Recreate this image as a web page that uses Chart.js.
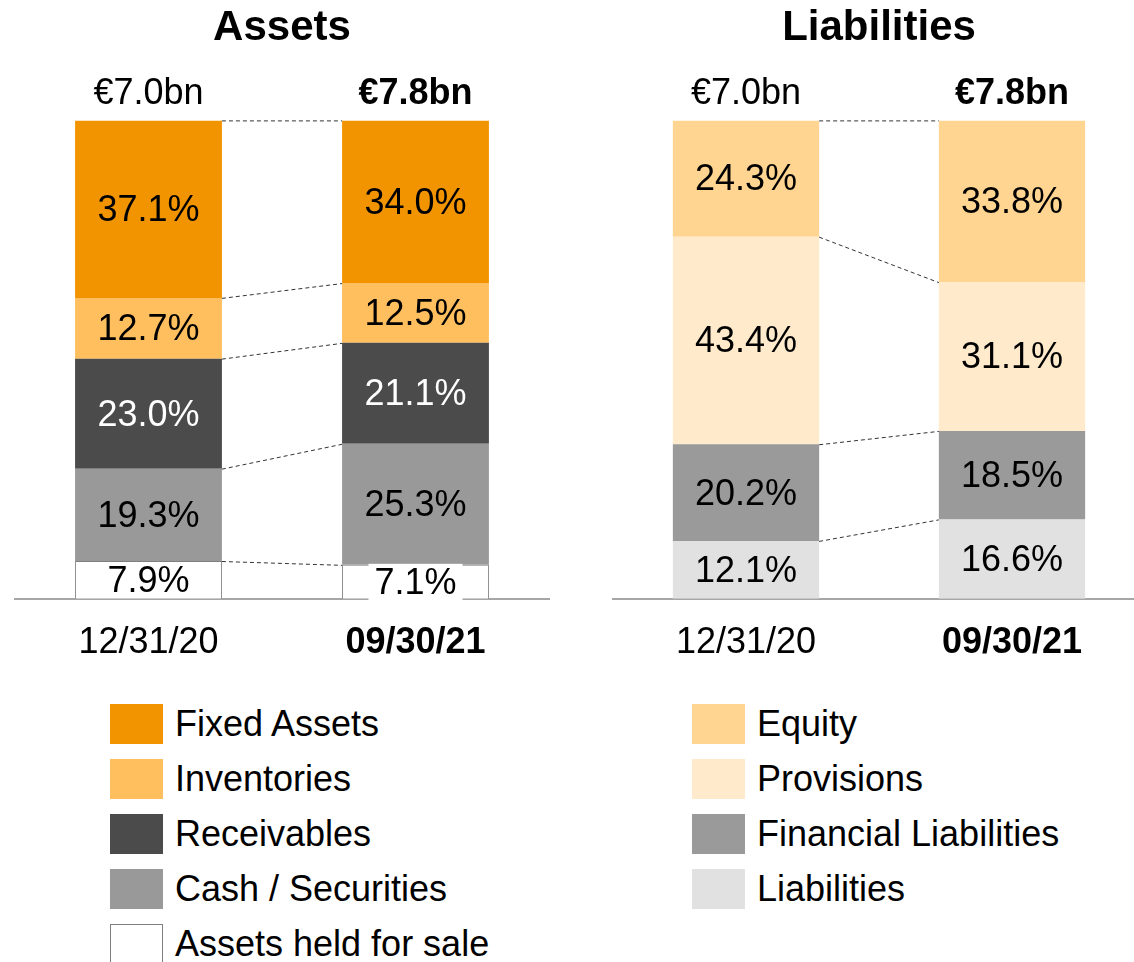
<!DOCTYPE html>
<html>
<head>
<meta charset="utf-8">
<script src="https://cdn.jsdelivr.net/npm/chart.js@4.4.1/dist/chart.umd.min.js"></script>
<style>
  html, body { margin: 0; padding: 0; background: #fff; overflow: hidden; }
  body { width: 1134px; height: 962px; position: relative; font-family: "Liberation Sans", Arial, sans-serif; }
  .panel { position: absolute; top: 0; }
  .legend { position: absolute; top: 696px; }
  .legend .item { display: flex; align-items: center; height: 55px; font-size: 36px; color: #000; }
  .legend .box { width: 53px; height: 40px; margin-right: 12px; box-sizing: border-box; }
</style>
</head>
<body>
<div class="panel" style="left:0"><canvas id="assetsChart" width="567" height="692"></canvas></div>
<div class="panel" style="left:598px"><canvas id="liabChart" width="565" height="692"></canvas></div>
<div class="legend" id="assetsLegend" style="left:110px"></div>
<div class="legend" id="liabLegend" style="left:692px"></div>
<script>
const dates = ['12/31/20', '09/30/21'];
const totals = ['€7.0bn', '€7.8bn'];

// Assets (%), bottom of the stack first
const heldForSale = [7.9, 7.1];
const cashSecurities = [19.3, 25.3];
const receivables = [23.0, 21.1];
const inventories = [12.7, 12.5];
const fixedAssets = [37.1, 34.0];

// Liabilities (%), bottom of the stack first
const liabilities = [12.1, 16.6];
const financialLiabilities = [20.2, 18.5];
const provisions = [43.4, 31.1];
const equity = [24.3, 33.8];

const FONT = '"Liberation Sans", Arial, sans-serif';

const barLabels = {
  id: 'barLabels',
  afterDatasetsDraw(chart, args, opts) {
    const ctx = chart.ctx;
    const metas = chart.data.datasets.map((d, i) => chart.getDatasetMeta(i));
    ctx.save();

    // dashed lines joining the segment tops
    ctx.strokeStyle = '#333';
    ctx.lineWidth = 1;
    ctx.setLineDash([4, 3]);
    metas.forEach(m => {
      const a = m.data[0], b = m.data[1];
      ctx.beginPath();
      ctx.moveTo(a.x + a.width / 2, a.y + 0.5);
      ctx.lineTo(b.x - b.width / 2, b.y + 0.5);
      ctx.stroke();
    });
    ctx.setLineDash([]);

    // percentages inside the segments
    ctx.font = '36px ' + FONT;
    ctx.textAlign = 'center';
    ctx.textBaseline = 'middle';
    metas.forEach((m, i) => {
      const ds = chart.data.datasets[i];
      m.data.forEach((el, j) => {
        const txt = ds.data[j].toFixed(1) + '%';
        const cy = (el.y + el.base) / 2 + 2;
        const h = el.base - el.y;
        if (h < 36) {
          const w = ctx.measureText(txt).width + 12;
          ctx.fillStyle = '#fff';
          ctx.fillRect(el.x - w / 2, cy - 20, w, 38);
        }
        ctx.fillStyle = ds.labelColor || '#000';
        ctx.fillText(txt, el.x, cy);
      });
    });

    // totals above the bars
    const top = metas[metas.length - 1].data;
    opts.totals.forEach((t, j) => {
      ctx.font = (j === 1 ? 'bold ' : '') + '36px ' + FONT;
      ctx.fillStyle = '#000';
      ctx.fillText(t, top[j].x, top[j].y - 26);
    });
    ctx.restore();
  }
};

function makeChart(id, title, datasets) {
  return new Chart(document.getElementById(id), {
    type: 'bar',
    data: { labels: dates, datasets: datasets },
    options: {
      responsive: false,
      animation: false,
      devicePixelRatio: 1,
      layout: { padding: { left: 15, right: 18, top: 0, bottom: 4 } },
      datasets: { bar: { barPercentage: 0.55, categoryPercentage: 1 } },
      scales: {
        x: {
          stacked: true,
          grid: { display: false, drawTicks: false },
          border: { display: true, color: '#a6a6a6', width: 2 },
          ticks: {
            padding: 23,
            color: '#000',
            font: c => ({ family: FONT, size: 36, weight: c.index === 1 ? 'bold' : 'normal' })
          }
        },
        y: { stacked: true, display: false, min: 0, max: 100 }
      },
      plugins: {
        legend: { display: false },
        tooltip: { enabled: false },
        title: {
          display: true,
          text: title,
          color: '#000',
          font: { family: FONT, size: 42, weight: 'bold' },
          padding: { top: 3, bottom: 67 }
        },
        barLabels: { totals: totals }
      }
    },
    plugins: [barLabels]
  });
}

const assetsChart = makeChart('assetsChart', 'Assets', [
  { label: 'Assets held for sale', data: heldForSale, backgroundColor: '#ffffff', borderColor: '#7f7f7f', borderWidth: 1 },
  { label: 'Cash / Securities', data: cashSecurities, backgroundColor: '#999999' },
  { label: 'Receivables', data: receivables, backgroundColor: '#4b4b4b', labelColor: '#ffffff' },
  { label: 'Inventories', data: inventories, backgroundColor: '#ffbf5e' },
  { label: 'Fixed Assets', data: fixedAssets, backgroundColor: '#f29400' }
]);

const liabChart = makeChart('liabChart', 'Liabilities', [
  { label: 'Liabilities', data: liabilities, backgroundColor: '#e1e1e1' },
  { label: 'Financial Liabilities', data: financialLiabilities, backgroundColor: '#9a9a9a' },
  { label: 'Provisions', data: provisions, backgroundColor: '#ffebcc' },
  { label: 'Equity', data: equity, backgroundColor: '#ffd591' }
]);

function buildLegend(chart, elId) {
  const el = document.getElementById(elId);
  chart.data.datasets.slice().reverse().forEach(ds => {
    const item = document.createElement('div');
    item.className = 'item';
    const box = document.createElement('span');
    box.className = 'box';
    box.style.background = ds.backgroundColor;
    if (ds.borderWidth) box.style.border = '1px solid ' + ds.borderColor;
    const txt = document.createElement('span');
    txt.textContent = ds.label;
    item.appendChild(box);
    item.appendChild(txt);
    el.appendChild(item);
  });
}
buildLegend(assetsChart, 'assetsLegend');
buildLegend(liabChart, 'liabLegend');
</script>
</body>
</html>
